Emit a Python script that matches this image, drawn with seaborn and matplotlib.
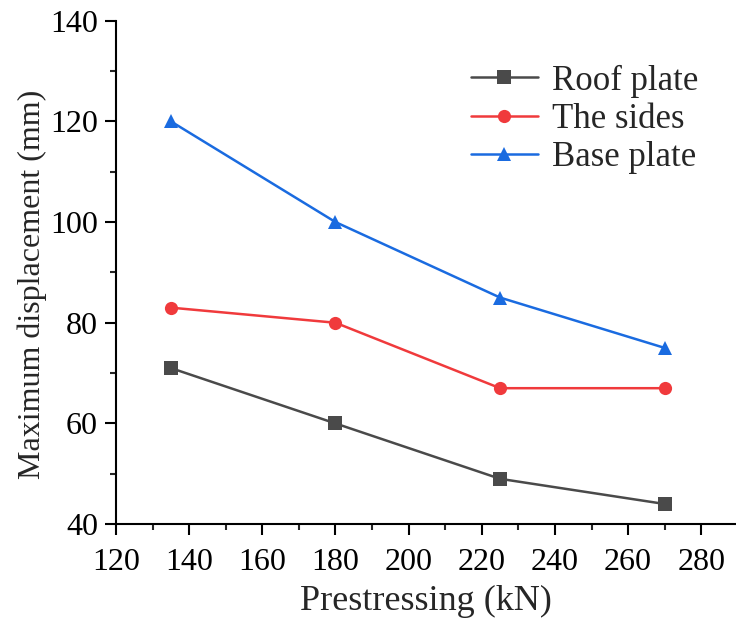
import matplotlib
matplotlib.use("Agg")
import matplotlib.pyplot as plt
import seaborn as sns
import pandas as pd
from matplotlib.ticker import MultipleLocator

prestress = [135, 180, 225, 270]
roof_plate = [71, 60, 49, 44]
the_sides = [83, 80, 67, 67]
base_plate = [120, 100, 85, 75]
series_names = ["Roof plate", "The sides", "Base plate"]
colors = ["#4a4a4a", "#f03a3c", "#1a6be0"]
markers = ["s", "o", "^"]

rows = []
for name, vals in zip(series_names, [roof_plate, the_sides, base_plate]):
    for x, y in zip(prestress, vals):
        rows.append({"Prestressing": x, "Disp": y, "Series": name})
df = pd.DataFrame(rows)

sns.set_style("ticks")
plt.rcParams['font.family'] = ['Liberation Serif', 'DejaVu Serif']

fig = plt.figure(figsize=(7.36, 6.21), dpi=100)
ax = fig.add_axes([0.1576, 0.156, 0.8424, 0.8107])

sns.lineplot(data=df, x="Prestressing", y="Disp", hue="Series", style="Series",
             hue_order=series_names, style_order=series_names,
             palette=colors, markers=markers, dashes=False, markersize=9.5,
             markeredgewidth=0, linewidth=1.8, ax=ax)

ax.set_xlim(120, 289.5)
ax.set_ylim(40, 140)
ax.xaxis.set_major_locator(MultipleLocator(20))
ax.xaxis.set_minor_locator(MultipleLocator(10))
ax.yaxis.set_major_locator(MultipleLocator(20))
ax.yaxis.set_minor_locator(MultipleLocator(10))
for s in ["top", "right"]:
    ax.spines[s].set_visible(False)
for s in ["left", "bottom"]:
    ax.spines[s].set_linewidth(1.5)
    ax.spines[s].set_color("black")
ax.tick_params(which="major", direction="out", length=8, width=1.5, colors="black",
               labelsize=23)
ax.tick_params(axis="x", which="major", pad=9)
ax.tick_params(axis="y", which="major", pad=5)
ax.tick_params(which="minor", direction="out", length=4, width=1.5)
ax.set_xlabel("Prestressing (kN)", fontsize=26, labelpad=6)
ax.set_ylabel("Maximum displacement (mm)", fontsize=23)
ax.yaxis.set_label_coords(-0.112, 0.477)

leg = ax.legend(loc="upper right", bbox_to_anchor=(0.99, 0.975), frameon=False, fontsize=25,
                handlelength=1.95, labelspacing=0.15, handletextpad=0.4)

fig.savefig("out.png", dpi=100)
